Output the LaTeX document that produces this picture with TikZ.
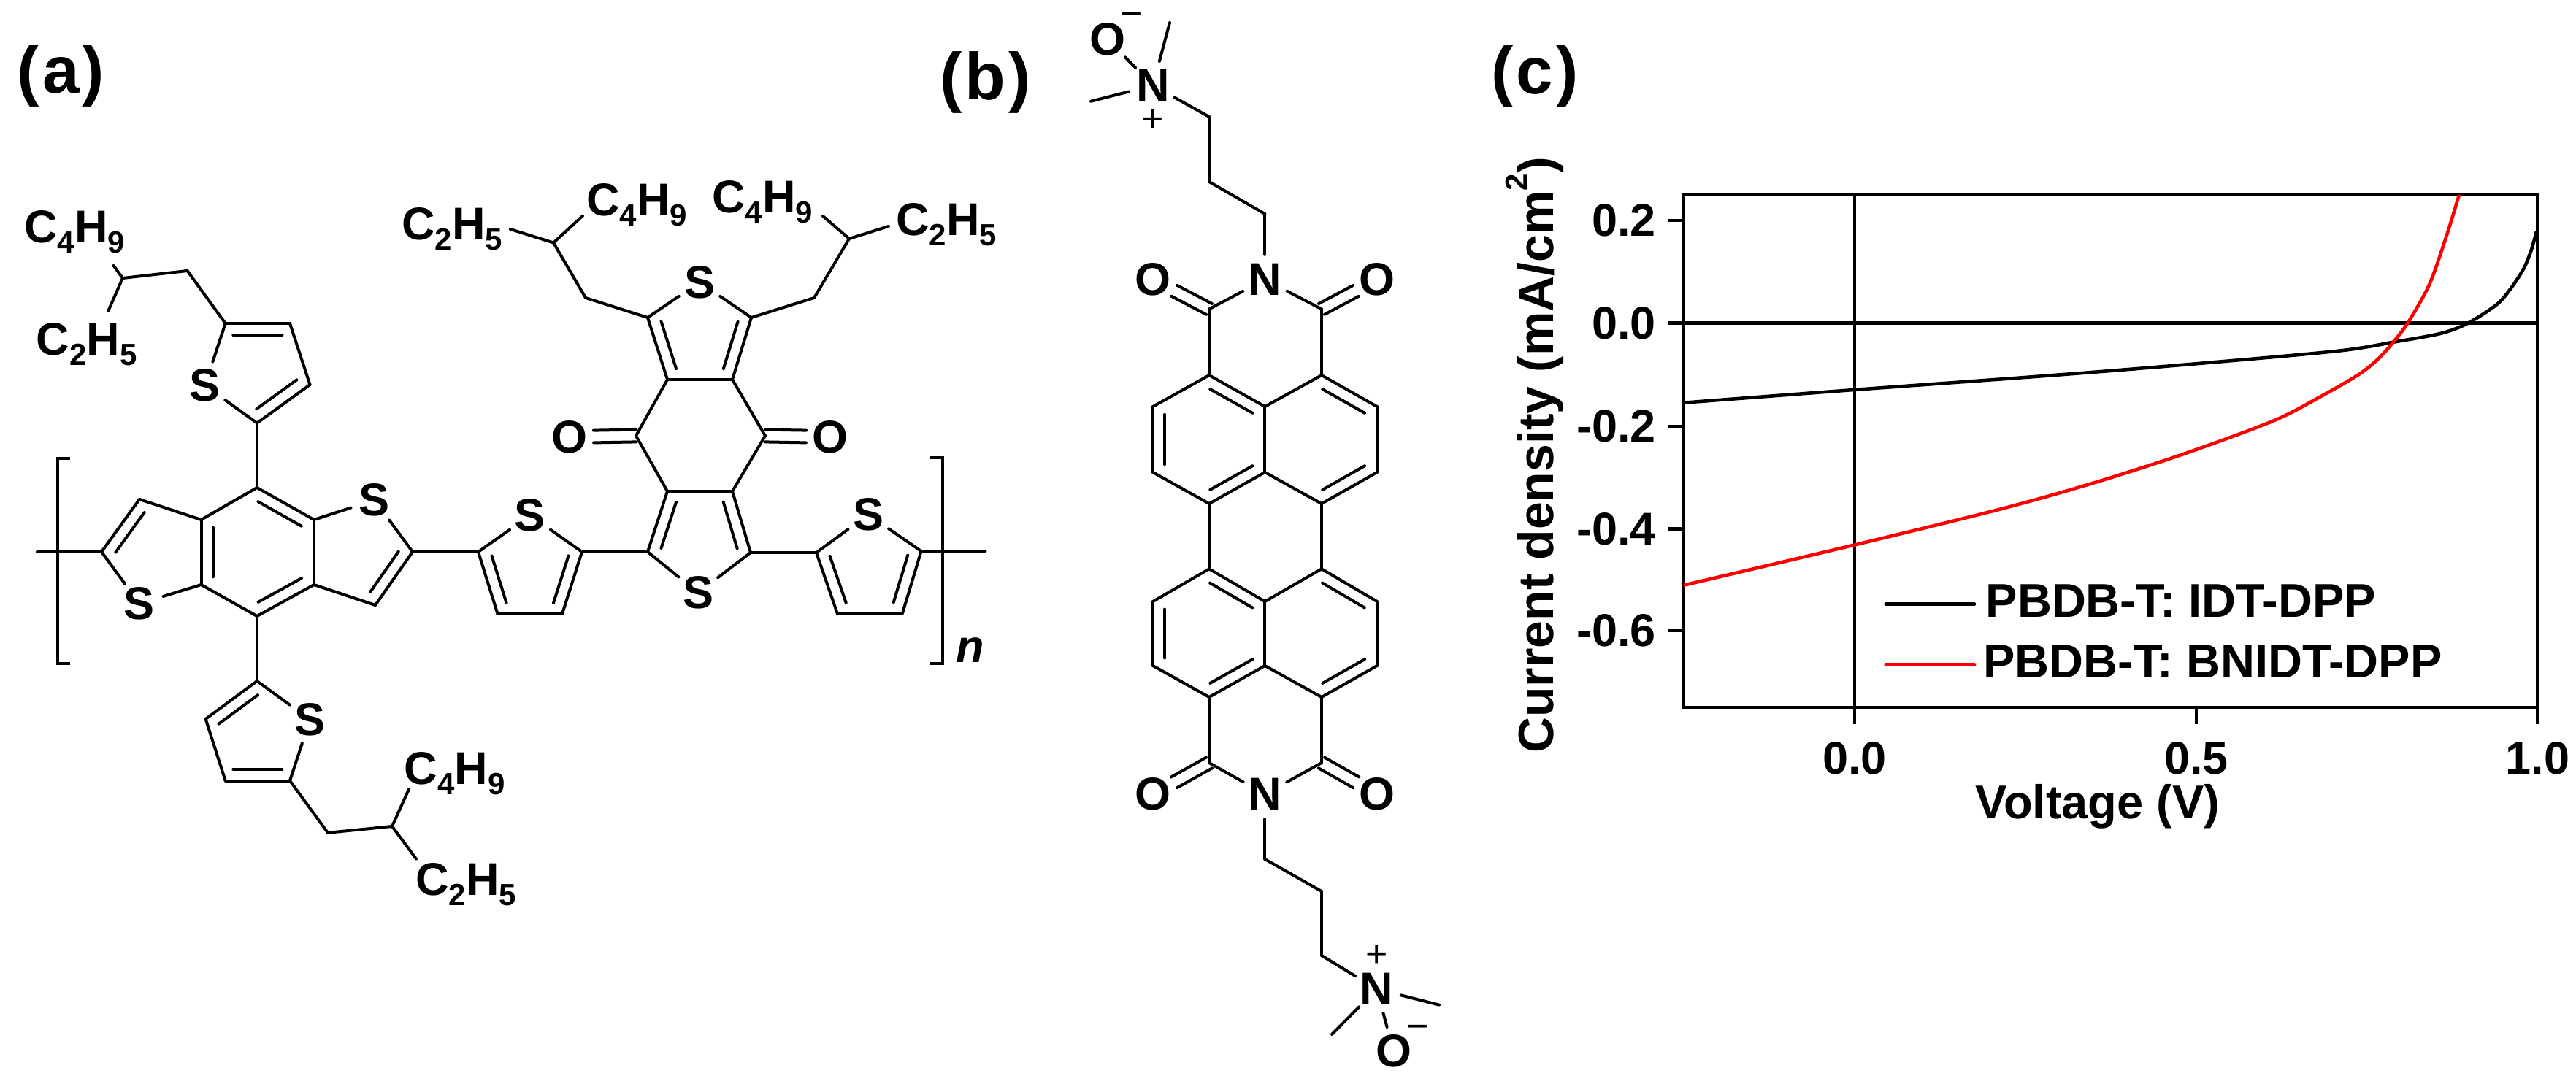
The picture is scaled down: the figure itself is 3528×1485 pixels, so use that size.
\documentclass[tikz,border=0pt]{standalone}
\usepackage{fontspec}
\setmainfont{Liberation Sans}
\usetikzlibrary{calc}
\newcommand{\sbs}[1]{\raisebox{-14pt}{\fontsize{42}{42}\selectfont #1}}
\newcommand{\dbond}[2]{\draw[bond] (#1) -- (#2); \draw[bond] ($(#1)!.12!(#2)!16pt!-90:(#2)$) -- ($(#2)!.12!(#1)!16pt!90:(#1)$);}
\newcommand{\cobond}[2]{\draw[bond] ($(#1)!8.4pt!90:(#2)$) -- ($(#2)!33pt!(#1)!8.4pt!-90:(#1)$); \draw[bond] ($(#1)!8.4pt!-90:(#2)$) -- ($(#2)!33pt!(#1)!8.4pt!90:(#1)$);}
\begin{document}
\begin{tikzpicture}[x=1pt, y=-1pt]
\tikzset{every node/.style={inner sep=0, font=\fontsize{63}{63}\selectfont\bfseries}, atom/.style={circle, minimum size=68pt}, bond/.style={line width=4pt, line cap=round}, charge/.style={anchor=base, font=\fontsize{52}{52}\selectfont}, panel/.style={anchor=base, font=\fontsize{91}{91}\selectfont\bfseries}, axisline/.style={line width=4.6pt}, curve/.style={line width=4.6pt}, ticklabel/.style={font=\fontsize{63}{63}\selectfont\bfseries}}
\useasboundingbox (0,0) rectangle (3528,1485);

\node[panel] (PA) at (83.5,128) {(\kern4pt a\kern4pt )};
\node[panel] (PB) at (1349.5,136) {(\kern4pt b\kern4pt )};
\node[panel] (PC) at (2102,129) {(\kern4pt c\kern4pt )};

% panel a, central benzene and its two thiophene rings
\coordinate (AT) at (352,668);
\coordinate (ATR) at (430,712);
\coordinate (ABR) at (430,801);
\coordinate (AB) at (352,844);
\coordinate (ABL) at (275.5,801);
\coordinate (ATL) at (275.5,712);
\coordinate (ALT) at (191,684);
\coordinate (ALL) at (139,756);
\node[atom] (ALS) at (191,827) {S};
\node[atom] (ARS) at (513,685) {S};
\coordinate (ARR) at (565,756);
\coordinate (ARB) at (514,829);
\dbond{AT}{ATR}
\draw[bond] (ATR) -- (ABR);
\dbond{ABR}{AB}
\draw[bond] (AB) -- (ABL);
\dbond{ABL}{ATL}
\draw[bond] (ATL) -- (AT);
\draw[bond] (ATL) -- (ALT);
\dbond{ALL}{ALT}
\draw[bond] (ALL) -- (ALS);
\draw[bond] (ALS) -- (ABL);
\draw[bond] (ATR) -- (ARS);
\draw[bond] (ARS) -- (ARR);
\dbond{ARR}{ARB}
\draw[bond] (ARB) -- (ABR);

% panel a, upper side chain
\coordinate (UC) at (352,579.5);
\coordinate (UR) at (424.5,527);
\coordinate (UT) at (397,443);
\coordinate (UL) at (308.7,443);
\node[atom] (US) at (280.6,528) {S};
\coordinate (UCH) at (256.6,371);
\coordinate (UCB) at (168,381);
\coordinate (UE1) at (155.6,364);
\coordinate (UE2) at (148.5,425.4);
\node[anchor=base west] (UBU) at (33,332.6) {C\sbs{4}H\sbs{9}};
\node[anchor=base west] (UET) at (49.5,486) {C\sbs{2}H\sbs{5}};
\draw[bond] (AT) -- (UC);
\dbond{UR}{UC}
\draw[bond] (UR) -- (UT);
\dbond{UL}{UT}
\draw[bond] (UL) -- (US);
\draw[bond] (US) -- (UC);
\draw[bond] (UL) -- (UCH);
\draw[bond] (UCH) -- (UCB);
\draw[bond] (UCB) -- (UE1);
\draw[bond] (UCB) -- (UE2);

% panel a, lower side chain
\coordinate (LC) at (352,933);
\coordinate (LL) at (281.6,985);
\coordinate (LB) at (308.7,1069.5);
\coordinate (LR) at (397,1069.5);
\node[atom] (LS) at (424.5,985.7) {S};
\coordinate (LCH) at (449,1140.8);
\coordinate (LCB) at (537,1132);
\coordinate (LE1) at (559.7,1081.8);
\coordinate (LE2) at (570,1176.6);
\node[anchor=base west] (LBU) at (553.6,1074) {C\sbs{4}H\sbs{9}};
\node[anchor=base west] (LET) at (569,1226) {C\sbs{2}H\sbs{5}};
\draw[bond] (AB) -- (LC);
\dbond{LL}{LC}
\draw[bond] (LL) -- (LB);
\dbond{LR}{LB}
\draw[bond] (LR) -- (LS);
\draw[bond] (LS) -- (LC);
\draw[bond] (LR) -- (LCH);
\draw[bond] (LCH) -- (LCB);
\draw[bond] (LCB) -- (LE1);
\draw[bond] (LCB) -- (LE2);

% panel a, first bridge thiophene
\coordinate (T1L) at (655,756);
\node[atom] (T1S) at (726,706) {S};
\coordinate (T1R) at (797,756);
\coordinate (T1BR) at (770,841);
\coordinate (T1BL) at (681.5,841);
\draw[bond] (ARR) -- (T1L);
\draw[bond] (T1L) -- (T1S);
\draw[bond] (T1S) -- (T1R);
\dbond{T1R}{T1BR}
\draw[bond] (T1BR) -- (T1BL);
\dbond{T1BL}{T1L}

% panel a, quinone core
\coordinate (QTL) at (914,520);
\coordinate (QTR) at (1003,520);
\coordinate (QR) at (1048,597);
\coordinate (QBR) at (1003,673);
\coordinate (QBL) at (914,673);
\coordinate (QL) at (871,597);
\node[atom] (QOL) at (780,598.6) {O};
\node[atom] (QOR) at (1137,598.6) {O};
\coordinate (QTCL) at (887,435);
\coordinate (QTCR) at (1029,435);
\node[atom] (QTS) at (958,386.6) {S};
\coordinate (QBCL) at (887,756);
\coordinate (QBCR) at (1028,757);
\node[atom] (QBS) at (956,812) {S};
\draw[bond] (QTL) -- (QTR);
\draw[bond] (QTR) -- (QR);
\draw[bond] (QR) -- (QBR);
\draw[bond] (QBR) -- (QBL);
\draw[bond] (QBL) -- (QL);
\draw[bond] (QL) -- (QTL);
\cobond{QL}{QOL}
\cobond{QR}{QOR}
\dbond{QTL}{QTCL}
\dbond{QTCR}{QTR}
\draw[bond] (QTCL) -- (QTS);
\draw[bond] (QTS) -- (QTCR);
\dbond{QBR}{QBCR}
\dbond{QBCL}{QBL}
\draw[bond] (QBCL) -- (QBS);
\draw[bond] (QBS) -- (QBCR);
\draw[bond] (T1R) -- (QBCL);

% panel a, chains on the quinone core
\coordinate (QLCH) at (802,408);
\coordinate (QLCB) at (758,332.5);
\coordinate (QLE1) at (699,314);
\coordinate (QLE2) at (798,295.7);
\coordinate (QRCH) at (1115,408);
\coordinate (QRCB) at (1163,327);
\coordinate (QRE1) at (1127,296);
\coordinate (QRE2) at (1217,310);
\node[anchor=base west] (QLET) at (550,328) {C\sbs{2}H\sbs{5}};
\node[anchor=base west] (QLBU) at (803,295.7) {C\sbs{4}H\sbs{9}};
\node[anchor=base west] (QRBU) at (975,291) {C\sbs{4}H\sbs{9}};
\node[anchor=base west] (QRET) at (1227,322) {C\sbs{2}H\sbs{5}};
\draw[bond] (QTCL) -- (QLCH);
\draw[bond] (QLCH) -- (QLCB);
\draw[bond] (QLCB) -- (QLE1);
\draw[bond] (QLCB) -- (QLE2);
\draw[bond] (QTCR) -- (QRCH);
\draw[bond] (QRCH) -- (QRCB);
\draw[bond] (QRCB) -- (QRE1);
\draw[bond] (QRCB) -- (QRE2);

% panel a, last thiophene and brackets
\coordinate (T2L) at (1118,757);
\node[atom] (T2S) at (1189,705) {S};
\coordinate (T2R) at (1261.6,755);
\coordinate (T2BR) at (1236,840);
\coordinate (T2BL) at (1147,841);
\draw[bond] (QBCR) -- (T2L);
\draw[bond] (T2L) -- (T2S);
\draw[bond] (T2S) -- (T2R);
\dbond{T2R}{T2BR}
\draw[bond] (T2BR) -- (T2BL);
\dbond{T2BL}{T2L}
\coordinate (CHL) at (51,756);
\coordinate (CHR) at (1349.4,755);
\draw[bond] (CHL) -- (ALL);
\draw[bond] (T2R) -- (CHR);
\draw[line width=4pt] (96,628) -- (79,628) -- (79,909) -- (96,909);
\draw[line width=4pt] (1274,627) -- (1291,627) -- (1291,909) -- (1274,909);
\node[anchor=base, font=\fontsize{63}{63}\selectfont\bfseries\itshape] (NN) at (1329,907) {n};

% panel b, top end group
\node[atom] (BN1) at (1579,117) {N};
\node[atom] (BO1) at (1517,54) {O};
\node[charge] (BM1) at (1549.5,37) {\smash{−}};
\node[charge] (BP1) at (1579,180) {+};
\coordinate (BE1) at (1602,31);
\coordinate (BE2) at (1494,138.8);
\coordinate (BC1) at (1656,160);
\coordinate (BC2) at (1656,249);
\coordinate (BC3) at (1732.4,293);
\draw[bond] (BN1) -- (BO1);
\draw[bond] (BN1) -- (BE1);
\draw[bond] (BN1) -- (BE2);
\draw[bond] (BN1) -- (BC1);
\draw[bond] (BC1) -- (BC2);
\draw[bond] (BC2) -- (BC3);

% panel b, upper imide
\node[atom] (BN2) at (1732.4,383) {N};
\node[atom] (BOL) at (1579,383) {O};
\node[atom] (BOR) at (1886,383) {O};
\coordinate (BIL) at (1656,423.4);
\coordinate (BIR) at (1810,423.4);
\draw[bond] (BC3) -- (BN2);
\draw[bond] (BN2) -- (BIL);
\draw[bond] (BN2) -- (BIR);
\cobond{BIL}{BOL}
\cobond{BIR}{BOR}

% panel b, perylene core
\coordinate (PTL) at (1656,514);
\coordinate (PTR) at (1810,514);
\coordinate (PTC) at (1732.4,557);
\coordinate (PTD) at (1732.4,647);
\coordinate (PUL) at (1579,557);
\coordinate (PVL) at (1579,647);
\coordinate (PUR) at (1886,557);
\coordinate (PVR) at (1886,647);
\coordinate (PML) at (1656,690);
\coordinate (PMR) at (1810,690);
\coordinate (RML) at (1656,779.4);
\coordinate (RMR) at (1810,779.4);
\coordinate (RTC) at (1732.4,824);
\coordinate (RTD) at (1732.4,912);
\coordinate (RUL) at (1579,824);
\coordinate (RVL) at (1579,912);
\coordinate (RUR) at (1886,824);
\coordinate (RVR) at (1886,912);
\coordinate (RDL) at (1656,955);
\coordinate (RDR) at (1810,955);
\draw[bond] (BIL) -- (PTL);
\draw[bond] (BIR) -- (PTR);
\dbond{PTL}{PTC}
\draw[bond] (PTC) -- (PTR);
\dbond{PTR}{PUR}
\draw[bond] (PUR) -- (PVR);
\dbond{PVR}{PMR}
\draw[bond] (PMR) -- (PTD);
\dbond{PTD}{PML}
\draw[bond] (PML) -- (PVL);
\dbond{PVL}{PUL}
\draw[bond] (PUL) -- (PTL);
\draw[bond] (PTC) -- (PTD);
\draw[bond] (PML) -- (RML);
\draw[bond] (PMR) -- (RMR);
\dbond{RML}{RTC}
\draw[bond] (RTC) -- (RMR);
\dbond{RMR}{RUR}
\draw[bond] (RUR) -- (RVR);
\dbond{RVR}{RDR}
\draw[bond] (RDR) -- (RTD);
\dbond{RTD}{RDL}
\draw[bond] (RDL) -- (RVL);
\dbond{RVL}{RUL}
\draw[bond] (RUL) -- (RML);
\draw[bond] (RTC) -- (RTD);

% panel b, lower imide and end group
\coordinate (BJL) at (1656,1045);
\coordinate (BJR) at (1810,1045);
\node[atom] (BN3) at (1732.4,1088) {N};
\node[atom] (BPL) at (1579,1088) {O};
\node[atom] (BPR) at (1886,1088) {O};
\coordinate (BD1) at (1732.4,1177);
\coordinate (BD2) at (1810,1221);
\coordinate (BD3) at (1810,1309);
\node[atom] (BN4) at (1885.5,1355) {N};
\node[atom] (BO4) at (1908.5,1440) {O};
\node[charge] (BP4) at (1885.5,1324) {+};
\node[charge] (BM4) at (1941.5,1423.5) {\smash{−}};
\coordinate (BF1) at (1971,1376.6);
\coordinate (BF2) at (1824,1417);
\draw[bond] (RDL) -- (BJL);
\draw[bond] (RDR) -- (BJR);
\draw[bond] (BJL) -- (BN3);
\draw[bond] (BJR) -- (BN3);
\cobond{BJL}{BPL}
\cobond{BJR}{BPR}
\draw[bond] (BN3) -- (BD1);
\draw[bond] (BD1) -- (BD2);
\draw[bond] (BD2) -- (BD3);
\draw[bond] (BD3) -- (BN4);
\draw[bond] (BN4) -- (BO4);
\draw[bond] (BN4) -- (BF1);
\draw[bond] (BN4) -- (BF2);

% panel c, frame and ticks
\draw[axisline] (2540,267) -- (2540,992);
\draw[axisline] (2285,442.5) -- (3475.5,442.5);
\draw[axisline] (2305.7,267) rectangle (3475.5,968.8);
\draw[axisline] (2285,302) -- (2305.7,302);
\draw[axisline] (2285,584) -- (2305.7,584);
\draw[axisline] (2285,724.6) -- (2305.7,724.6);
\draw[axisline] (2285,863.5) -- (2305.7,863.5);
\draw[axisline] (3007.8,968.8) -- (3007.8,992);
\draw[axisline] (3475.5,968.8) -- (3475.5,992);
\node[ticklabel, anchor=east] (Y1) at (2268,302) {0.2};
\node[ticklabel, anchor=east] (Y2) at (2268,442.5) {0.0};
\node[ticklabel, anchor=east] (Y3) at (2268,584) {-0.2};
\node[ticklabel, anchor=east] (Y4) at (2268,724.6) {-0.4};
\node[ticklabel, anchor=east] (Y5) at (2268,863.5) {-0.6};
\node[ticklabel, anchor=base] (X1) at (2540,1060) {0.0};
\node[ticklabel, anchor=base] (X2) at (3007.8,1060) {0.5};
\node[ticklabel, anchor=base] (X3) at (3475.5,1060) {1.0};
\node[anchor=base, font=\fontsize{65}{65}\selectfont\bfseries] (XL) at (2873,1121) {Voltage (V)};
\node[anchor=base west, rotate=90, font=\fontsize{68}{68}\selectfont\bfseries] (YL) at (2127,1032) {Current density (mA/cm\raisebox{36pt}{\fontsize{42}{42}\selectfont 2})};

% panel c, curves
\draw[curve, black] plot[smooth] coordinates {(2306,551.7) (2539,534) (2800,515) (2987.5,500) (3200,481) (3280,468.3) (3343,456.7) (3380,442.7) (3420,416.7) (3440,393.3) (3457,366.7) (3467,341.7) (3474,316.7)};
\draw[curve, red] plot[smooth] coordinates {(2306,801.7) (2539,746.7) (2737.5,698) (2862.5,663) (2987.5,623) (3112.5,577) (3175,545) (3230,513.3) (3257,491.7) (3278,468.3) (3298,441.7) (3327,390) (3350,325) (3368,266.7)};

% panel c, legend
\coordinate (LG1) at (2582.7,827.7);
\coordinate (LG2) at (2704,827.7);
\coordinate (LG3) at (2582.7,910.5);
\coordinate (LG4) at (2704,910.5);
\draw[curve, black, line cap=round] (LG1) -- (LG2);
\draw[curve, red, line cap=round] (LG3) -- (LG4);
\node[anchor=base west, font=\fontsize{65}{65}\selectfont\bfseries] (LT1) at (2719.5,845) {PBDB-T: IDT-DPP};
\node[anchor=base west, font=\fontsize{65}{65}\selectfont\bfseries] (LT2) at (2716,928) {PBDB-T: BNIDT-DPP};
\end{tikzpicture}
\end{document}
